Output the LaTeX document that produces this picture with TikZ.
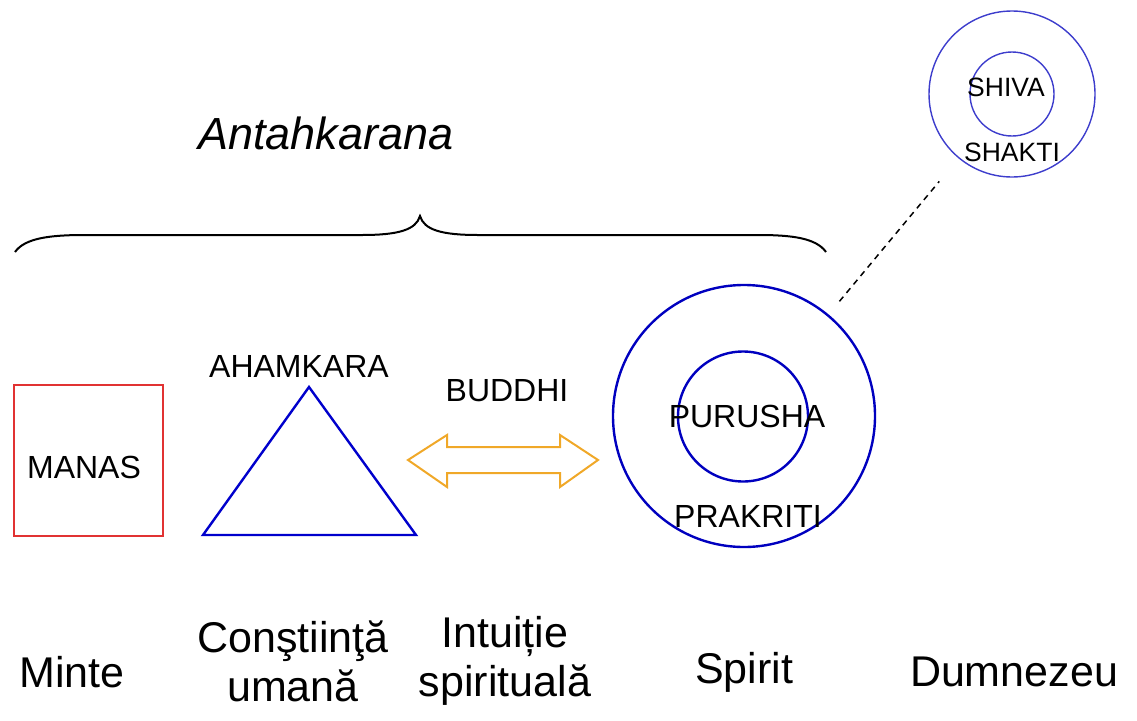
\documentclass[tikz,border=0pt]{standalone}
\usepackage{fontspec}
\setmainfont{Liberation Sans}
\begin{document}
\begin{tikzpicture}[x=1pt,y=-1pt,
  lbl/.style={inner sep=0pt, font=\fontsize{32}{38}\selectfont},
  slbl/.style={inner sep=0pt, font=\fontsize{26.5}{32}\selectfont},
  blbl/.style={inner sep=0pt, align=center, font=\fontsize{43}{49}\selectfont},
  ring/.style={circle, draw=blue!75!black, line width=2.4pt, inner sep=0pt},
  sring/.style={circle, draw=blue!70!white!80!black, line width=1.4pt, inner sep=0pt}]
\useasboundingbox (0,0) rectangle (1137,720);
% title and brace
\node[inner sep=0pt, font=\fontsize{45}{52}\selectfont\itshape] (title) at (326,133) {Antahkarana};
\draw[line width=2pt] (15,252) .. controls (25,238) and (50,235) .. (85,235) -- (362,235)
  .. controls (398,235) and (416,230) .. (420,216)
  .. controls (424,230) and (442,235) .. (478,235) -- (758,235)
  .. controls (792,235) and (816,238) .. (826,252);
% manas
\node[draw={rgb,255:red,225;green,50;blue,50}, line width=2pt, minimum width=149pt, minimum height=151pt, inner sep=0pt] (manas) at (88.5,460.5) {};
\node[lbl] (manast) at (84,467) {MANAS};
% ahamkara triangle
\coordinate (ta) at (309,387);
\coordinate (tb) at (203,535);
\coordinate (tc) at (416,535);
\draw[blue!80!black, line width=2.4pt, line join=miter] (ta) -- (tb) -- (tc) -- cycle;
\node[lbl] (aham) at (299,366) {AHAMKARA};
% buddhi arrow
\node[lbl] (buddhi) at (507,391) {BUDDHI};
\draw[draw={rgb,255:red,240;green,168;blue,40}, line width=2pt, line join=miter]
  (408,460) -- (447,435) -- (447,447) -- (560,447) -- (560,435) -- (598,460)
  -- (560,487) -- (560,473) -- (447,473) -- (447,487) -- cycle;
% spirit circles
\node[ring, minimum size=262pt] (spirit) at (744,416) {};
\node[ring, minimum size=130pt] (spiritin) at (743,416.5) {};
\node[lbl] (purusha) at (747,416) {PURUSHA};
\node[lbl] (prakriti) at (748,516) {PRAKRITI};
% god circles
\node[sring, minimum size=166pt] (god) at (1012,94) {};
\node[sring, minimum size=84pt] (godin) at (1012,94) {};
\node[slbl] (shiva) at (1006,87) {SHIVA};
\node[slbl] (shakti) at (1012,152) {SHAKTI};
\draw[line width=1.5pt, dash pattern=on 6pt off 5pt, shorten <=17pt, shorten >=30pt] (spirit) -- (god);
% bottom labels
\node[blbl] (minte) at (72,672) {Minte};
\node[blbl] (constiinta) at (293,661) {Conştiinţă\\umană};
\node[blbl] (intuitie) at (505,661) {Intuiție\\spirituală};
\node[blbl] (spiritl) at (744,672) {Spirit};
\node[blbl] (dumnezeu) at (1014,672) {Dumnezeu};
\end{tikzpicture}
\end{document}
